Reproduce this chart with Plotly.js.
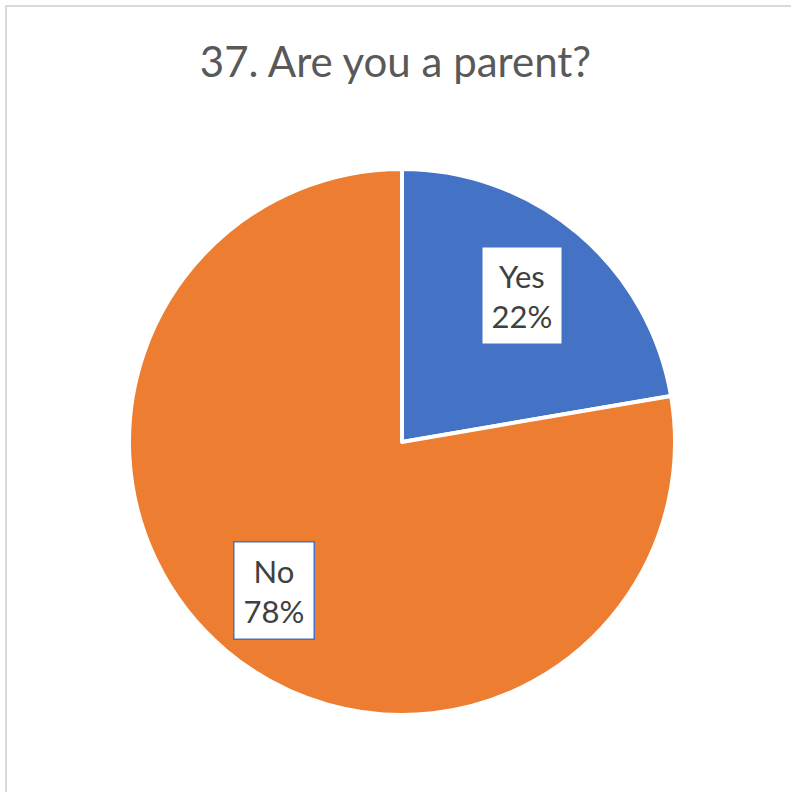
<!DOCTYPE html>
<html>
<head>
<meta charset="utf-8">
<script src="https://cdn.plot.ly/plotly-3.0.1.min.js"></script>
<style>html,body{margin:0;padding:0;background:#fff;}#chart{width:791px;height:792px;}</style>
</head>
<body>
<div id="chart"></div>
<script>
const categories = ["Yes", "No"];
const values = [22.3, 77.7];
const pctLabels = ["22%", "78%"];
const sliceColors = ["#4472C4", "#ED7D31"];
const chartTitle = "37. Are you a parent?";

const W = 791, H = 792;
const cx = 402, cy = 442, R = 273;
const dom = {
  x: [(cx - R) / W, (cx + R) / W],
  y: [(H - cy - R) / H, (H - cy + R) / H]
};

// label annotations placed along each slice's mid-angle (clockwise from 12 o'clock)
const total = values.reduce((a, b) => a + b, 0);
let cum = 0;
const annotations = [];
values.forEach((v, i) => {
  const mid = (cum + v / 2) / total * 2 * Math.PI;
  cum += v;
  const rr = 0.71 * 271;
  const px = cx + rr * Math.sin(mid) - 4;
  const py = cy - rr * Math.cos(mid) + 1;
  annotations.push({
    x: px / W, y: 1 - py / H, xref: 'paper', yref: 'paper',
    text: categories[i] + '<br>' + pctLabels[i],
    showarrow: false,
    font: {family: 'Lato, "Open Sans", sans-serif', size: 31, color: '#404040'},
    bgcolor: '#FFFFFF', bordercolor: '#4472C4', borderwidth: 1.5, borderpad: 9,
    align: 'center', xanchor: 'center', yanchor: 'middle'
  });
});

const data = [{
  type: 'pie',
  labels: categories,
  values: values,
  sort: false,
  direction: 'clockwise',
  rotation: 0,
  marker: {colors: sliceColors, line: {color: '#FFFFFF', width: 4}},
  textinfo: 'none',
  hoverinfo: 'label+percent',
  showlegend: false,
  domain: dom
}];

const layout = {
  width: W, height: H,
  margin: {l: 0, r: 0, t: 0, b: 0},
  paper_bgcolor: '#FFFFFF',
  title: {
    text: chartTitle,
    font: {family: 'Lato, "Open Sans", sans-serif', size: 42, color: '#595959'},
    x: 0.5, xref: 'paper', xanchor: 'center',
    y: 1 - 62 / H, yref: 'container', yanchor: 'middle'
  },
  annotations: annotations,
  shapes: [{
    type: 'rect', xref: 'paper', yref: 'paper',
    x0: 6 / W, x1: 1.05, y0: -0.05, y1: 1 - 6 / H,
    line: {color: '#D9D9D9', width: 2}, fillcolor: 'rgba(0,0,0,0)', layer: 'below'
  }]
};

Plotly.newPlot('chart', data, layout, {displayModeBar: false, staticPlot: true});
</script>
</body>
</html>
